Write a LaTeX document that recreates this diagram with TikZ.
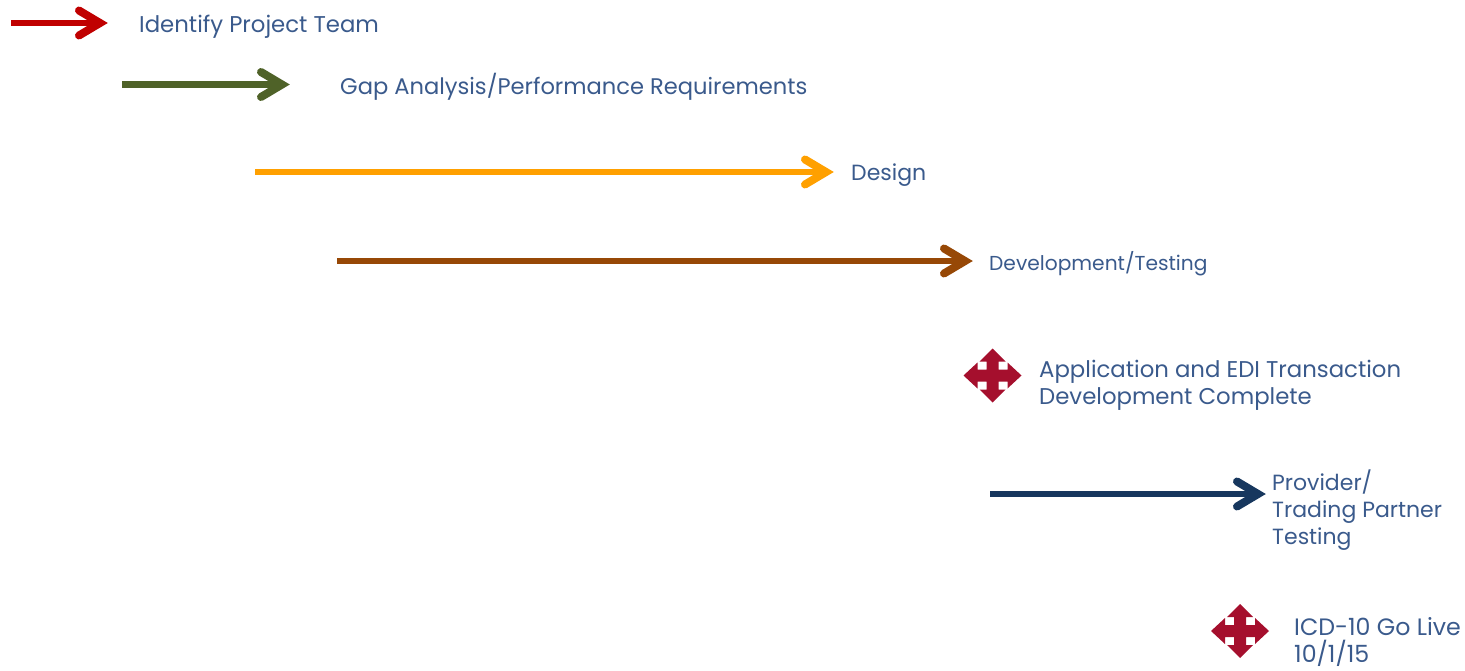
\documentclass[tikz,border=0pt]{standalone}
\usepackage{fontspec}
\setmainfont{Poppins}
\definecolor{lbl}{HTML}{3A5A8C}
\definecolor{cred}{HTML}{C00000}
\definecolor{cgreen}{HTML}{4F6228}
\definecolor{corange}{HTML}{FFA000}
\definecolor{cbrown}{HTML}{974806}
\definecolor{cnavy}{HTML}{17375E}
\definecolor{ccross}{HTML}{A50F2D}
\tikzset{x=1pt,y=-1pt,
  lab/.style={anchor=west,inner sep=0pt,text=lbl,font=\fontsize{22.8}{27.5}\selectfont,align=left},
  bar/.style={line width=6.5pt},
  barhead/.style={line width=8pt,line cap=round,line join=miter},
  pt/.style={inner sep=0pt,minimum size=0pt}}
\newcommand{\barrow}[3]{%
  \draw[bar,#1] (#2)--([xshift=-6pt]#3);
  \draw[barhead,#1] ([shift={(-29,-12.5)}]#3)--([xshift=-8pt]#3)--([shift={(-29,12.5)}]#3);}
\newcommand{\crossmark}[3]{%
  \node[pt] (#3) at (#1,#2) {};
  \fill[ccross,shift={(#1,#2)}] (0,-27)--(13,-14)--(6,-14)--(6,-6)--(15,-6)--(15,-13)--(29,0)--(15,13)--(15,6)--(6,6)--(6,14)--(13,14)--(0,27)--(-13,14)--(-6,14)--(-6,6)--(-15,6)--(-15,13)--(-29,0)--(-15,-13)--(-15,-6)--(-6,-6)--(-6,-14)--(-13,-14)--cycle;}
\begin{document}
\begin{tikzpicture}
\useasboundingbox (0,0) rectangle (1465,670);
\coordinate (a1) at (11,23); \coordinate (b1) at (108,23);
\coordinate (a2) at (122,84.5); \coordinate (b2) at (290,84.5);
\coordinate (a3) at (255,172); \coordinate (b3) at (834,172);
\coordinate (a4) at (337,261); \coordinate (b4) at (973,261);
\coordinate (a5) at (990,494); \coordinate (b5) at (1266,494);
\barrow{cred}{a1}{b1}
\barrow{cgreen}{a2}{b2}
\barrow{corange}{a3}{b3}
\barrow{cbrown}{a4}{b4}
\barrow{cnavy}{a5}{b5}
\crossmark{992.5}{375.5}{m1}
\crossmark{1240}{631}{m2}
\node[lab] (t1) at (139,27) {Identify Project Team};
\node[lab,font=\fontsize{22.6}{27.5}\selectfont] (t2) at (340,87) {Gap Analysis/Performance Requirements};
\node[lab,font=\fontsize{22}{27}\selectfont] (t3) at (851,175.5) {Design};
\node[lab,font=\fontsize{20.2}{25}\selectfont] (t4) at (989,264) {Development/Testing};
\node[lab] (t5) at (1039,385.5) {Application and EDI Transaction\\Development Complete};
\node[lab,font=\fontsize{22}{27}\selectfont] (t6) at (1272,510) {Provider/\\Trading Partner\\Testing};
\node[lab,font=\fontsize{23.7}{27}\selectfont] (t7) at (1294,642) {ICD-10 Go Live\\10/1/15};
\end{tikzpicture}
\end{document}
